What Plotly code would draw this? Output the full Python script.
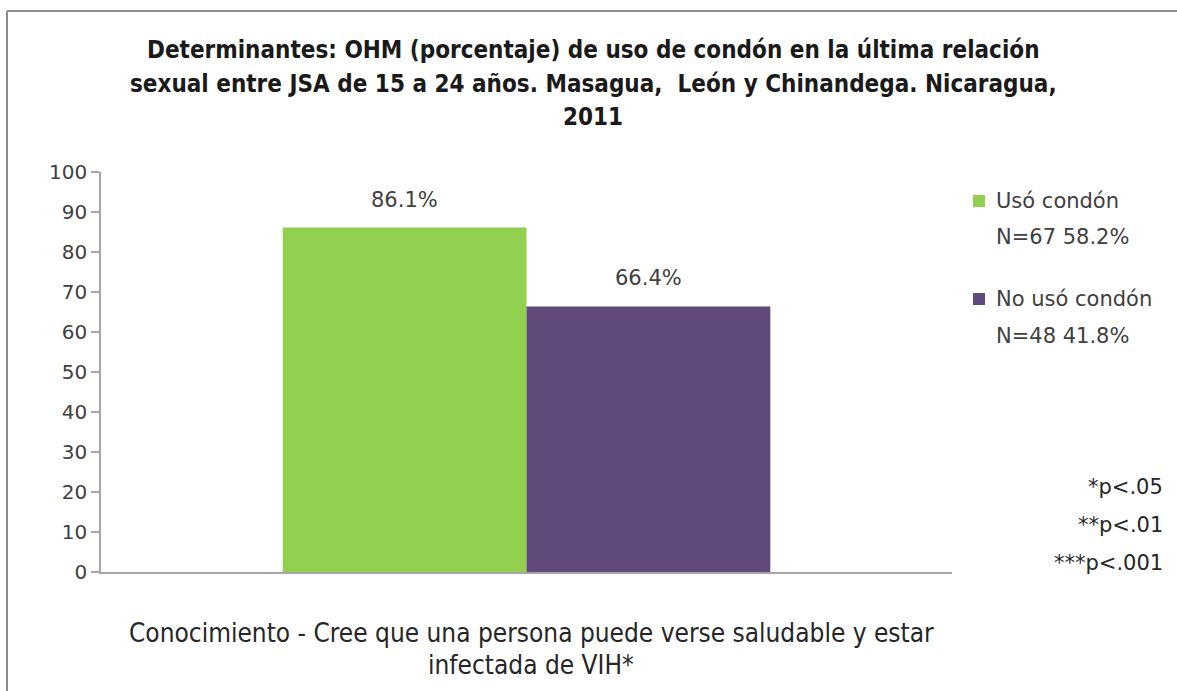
import plotly.graph_objects as go

# ---- data ----
categories = ["Conocimiento - Cree que una persona puede verse saludable y estar infectada de VIH*"]
category_lines = ["Conocimiento - Cree que una persona puede verse saludable y estar", "infectada de VIH*"]
series_names = ["Usó condón", "No usó condón"]
series_n = ["N=67 58.2%", "N=48 41.8%"]
series_values = [86.1, 66.4]
series_colors = ["#92D050", "#604A7B"]
title_lines = [
    "Determinantes: OHM (porcentaje) de uso de condón en la última relación",
    "sexual entre JSA de 15 a 24 años. Masagua,  León y Chinandega. Nicaragua,",
    "2011",
]
pvalue_notes = ["*p<.05", "**p<.01", "***p<.001"]
y_ticks = list(range(0, 101, 10))

W, H = 1177, 691
L, R, T, B = 101, 225, 172, 119
pw, ph = W - L - R, H - T - B

def px_x(px):
    return (px - L) / pw

def px_y(py):
    return (H - B - py) / ph

BODY = "DejaVu Sans, Open Sans, sans-serif"
NARROW = "DejaVu Sans Condensed, Liberation Sans Narrow, Roboto Condensed, sans-serif"

fig = go.Figure()
bargap = 0.427
for name, val, col in zip(series_names, series_values, series_colors):
    fig.add_trace(go.Bar(
        x=categories, y=[val], name=name, marker=dict(color=col, line=dict(width=0)),
        showlegend=False, hoverinfo="skip",
    ))

annotations = []
# data labels
bw = (1 - bargap) / len(series_values)
for i, val in enumerate(series_values):
    xc = -0.5 + bargap / 2 + bw * (i + 0.5)
    annotations.append(dict(x=xc, y=val, xref="x", yref="y", text=f"{val:.1f}%",
                            showarrow=False, yshift=28, font=dict(family=BODY, size=21, color="#404040")))

# title
for i, line in enumerate(title_lines):
    annotations.append(dict(x=px_x(593), y=px_y(50 + 33.5 * i), xref="paper", yref="paper", text=f"<b>{line}</b>",
                            showarrow=False, xanchor="center", yanchor="middle",
                            font=dict(family=NARROW, size=24, color="#1a1a1a")))

# category label
for i, line in enumerate(category_lines):
    annotations.append(dict(x=px_x(531), y=px_y(633 + 32 * i), xref="paper", yref="paper", text=line,
                            showarrow=False, xanchor="center", yanchor="middle",
                            font=dict(family=NARROW, size=26, color="#262626")))

# legend
shapes = []
leg_y = [[201, 237], [299, 336]]
for i, (name, ntxt, col) in enumerate(zip(series_names, series_n, series_colors)):
    y0 = leg_y[i][0]
    shapes.append(dict(type="rect", xref="paper", yref="paper",
                       x0=px_x(973), x1=px_x(985), y0=px_y(y0 - 6), y1=px_y(y0 + 6),
                       fillcolor=col, line=dict(width=0)))
    annotations.append(dict(x=px_x(994), y=px_y(y0), xref="paper", yref="paper", text=name,
                            showarrow=False, xanchor="left", yanchor="middle",
                            font=dict(family=BODY, size=21, color="#404040")))
    annotations.append(dict(x=px_x(994), y=px_y(leg_y[i][1]), xref="paper", yref="paper", text=ntxt,
                            showarrow=False, xanchor="left", yanchor="middle",
                            font=dict(family=BODY, size=21, color="#404040")))

# p-value notes
for i, txt in enumerate(pvalue_notes):
    annotations.append(dict(x=px_x(1165), y=px_y(487 + 38 * i), xref="paper", yref="paper", text=txt,
                            showarrow=False, xanchor="right", yanchor="middle",
                            font=dict(family=BODY, size=21, color="#262626")))

# outer frame (top and left edges only, as in the reference)
shapes.append(dict(type="line", xref="paper", yref="paper",
                   x0=px_x(7), x1=px_x(1177), y0=px_y(11), y1=px_y(11),
                   line=dict(color="#8c8c8c", width=2), layer="below"))
shapes.append(dict(type="line", xref="paper", yref="paper",
                   x0=px_x(7), x1=px_x(7), y0=px_y(11), y1=px_y(691),
                   line=dict(color="#8c8c8c", width=2), layer="below"))

fig.update_layout(
    width=W, height=H,
    margin=dict(l=L, r=R, t=T, b=B, pad=0),
    paper_bgcolor="white", plot_bgcolor="white",
    barmode="group", bargap=bargap, bargroupgap=0,
    annotations=annotations, shapes=shapes,
    xaxis=dict(range=[-0.5, 0.5], showticklabels=False, ticks="", showgrid=False,
               showline=True, linecolor="#a6a6a6", linewidth=1.5, zeroline=False),
    yaxis=dict(range=[0, 100], tickvals=y_ticks, ticks="outside", ticklen=8, tickcolor="#a6a6a6",
               tickwidth=1.5, showgrid=False, showline=True, linecolor="#a6a6a6", linewidth=1.5,
               zeroline=False, tickfont=dict(family=BODY, size=20, color="#404040")),
)

fig.write_html("out.html", config={"displayModeBar": False},
               post_script="document.body.style.margin='0';document.body.style.overflow='hidden';")
